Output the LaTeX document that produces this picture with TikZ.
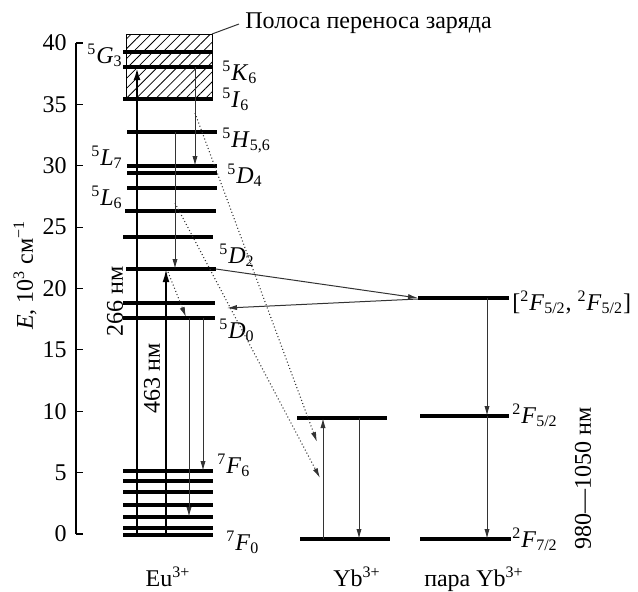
\documentclass[tikz,border=0pt]{standalone}
\usepackage{fontspec}
\setmainfont{Liberation Serif}
\usetikzlibrary{arrows.meta,patterns.meta}
\newcommand\lvl[3]{\textsuperscript{#1}\textit{#2}\textsubscript{#3}}
\begin{document}
\begin{tikzpicture}[x=0.5pt,y=-0.5pt,
  font=\fontsize{12}{14}\selectfont,
  level/.style={line width=1.6pt},
  thinline/.style={line width=0.5pt, draw=black!80},
  arr/.style={-{Latex[length=5pt,width=2.6pt]}},
  bigarr/.style={-{Latex[length=6.5pt,width=3.4pt]}},
  dots/.style={line width=0.55pt, draw=black!80, dash pattern=on 0.5pt off 1.2pt},
  lab/.style={inner sep=0pt}]
\useasboundingbox (0,0) rectangle (638,591);

% axis
\draw[line width=0.6pt] (76,534) -- (76,43);
\foreach \v [evaluate=\v as \yy using 534-61.375*\v, evaluate=\v as \lb using int(5*\v)] in {0,...,8}{
  \draw[line width=0.6pt] (76,\yy) -- (83,\yy);
  \node[lab, anchor=east] (t\v) at (67,\yy) {\lb};
}
\node[lab, rotate=90] (ylab) at (25,275) {\textit{E}, 10\textsuperscript{3} см\textsuperscript{−1}};

% charge transfer band
\draw[line width=0.5pt, pattern={Lines[angle=45,distance=3.5pt,line width=0.4pt]}] (126,34) rectangle (212,99);
\coordinate (bandc) at (212,34);
\node[lab, anchor=base west] (band) at (245,28) {Полоса переноса заряда};
\draw[thinline] (bandc) -- (239,24);

% Eu levels
\foreach \ya/\xa/\xb in {52/123/213, 67/123/213, 99/123/213, 132/127/217, 166/127/217, 173/127/217, 188/127/217, 211/125/216, 237/123/213, 269/126/216, 303/123/215, 318/123/215, 471/123/213, 481/123/213, 492/123/213, 505/123/213, 517/123/213, 528/123/213, 535/123/213}
  \draw[level] (\xa,\ya) -- (\xb,\ya);

% Yb levels
\draw[level] (297,418) -- (387,418);
\draw[level] (300,539) -- (390,539);
% pair levels
\draw[level] (418,298) -- (509,298);
\draw[level] (420,416) -- (509,416);
\draw[level] (420,539) -- (511,539);

% level labels
\node[lab, anchor=base east] (G3) at (123,63) {\lvl{5}{G}{3}};
\node[lab, anchor=base west] (K6) at (222,80) {\lvl{5}{K}{6}};
\node[lab, anchor=base west] (I6) at (222,107) {\lvl{5}{I}{6}};
\node[lab, anchor=base west] (H56) at (222,147) {\lvl{5}{H}{5,6}};
\node[lab, anchor=base east] (L7) at (123,165) {\lvl{5}{L}{7}};
\node[lab, anchor=base west] (D4) at (227,183) {\lvl{5}{D}{4}};
\node[lab, anchor=base east] (L6) at (123,205) {\lvl{5}{L}{6}};
\node[lab, anchor=base west] (D2) at (219,263) {\lvl{5}{D}{2}};
\node[lab, anchor=base west] (D0) at (219,338) {\lvl{5}{D}{0}};
\node[lab, anchor=base west] (F6) at (217,473) {\lvl{7}{F}{6}};
\node[lab, anchor=base west] (F0) at (226,550) {\lvl{7}{F}{0}};
\node[lab, anchor=base west] (P52) at (512,423) {\lvl{2}{F}{5/2}};
\node[lab, anchor=base west] (P72) at (512,547) {\lvl{2}{F}{7/2}};
\node[lab, anchor=base west] (Pair) at (512,310) {[\lvl{2}{F}{5/2}, \lvl{2}{F}{5/2}]};
\node[lab, anchor=base] (Eu) at (168,586) {Eu\textsuperscript{3+}};
\node[lab, anchor=base] (Yb) at (357,586) {Yb\textsuperscript{3+}};
\node[lab, anchor=base] (YbP) at (474,586) {пара Yb\textsuperscript{3+}};
\node[lab, rotate=90] (w266) at (115,301) {266 нм};
\node[lab, rotate=90] (w463) at (152,378) {463 нм};
\node[lab, rotate=90] (w980) at (583,478) {980—1050 нм};

% coordinates
\coordinate (F0a) at (137,535); \coordinate (K6a) at (137,67);
\coordinate (F0b) at (166,535); \coordinate (D2b) at (166,269);
\coordinate (H56c) at (175,132); \coordinate (D2c) at (175,269);
\coordinate (K6d) at (195,67); \coordinate (D4d) at (195,166);
\coordinate (D0e) at (189,318); \coordinate (F2e) at (189,517);
\coordinate (D0f) at (203,318); \coordinate (F6f) at (203,471);
\coordinate (D2g) at (168,272); \coordinate (D0g) at (186,317);
\coordinate (I6h) at (195,113); \coordinate (Ybh) at (317,442);
\coordinate (Lci) at (175,203); \coordinate (Ybi) at (320,478);
\coordinate (D2r) at (216,269); \coordinate (Pl) at (418,298);
\coordinate (Pl2) at (418,299); \coordinate (D0r) at (227,308);
\coordinate (Pv) at (487,298); \coordinate (Pv52) at (487,416); \coordinate (Pv72) at (487,539);
\coordinate (Y72u) at (323,539); \coordinate (Y52u) at (323,418);
\coordinate (Y52d) at (359,418); \coordinate (Y72d) at (359,539);

% transitions
\draw[line width=1.2pt, bigarr] (F0a) -- (K6a);
\draw[line width=0.9pt, bigarr] (F0b) -- (D2b);
\draw[thinline, arr] (H56c) -- (D2c);
\draw[thinline, arr] (K6d) -- (D4d);
\draw[thinline, arr] (D0e) -- (F2e);
\draw[thinline, arr] (D0f) -- (F6f);
\draw[dots, arr] (D2g) -- (D0g);
\draw[dots, arr] (I6h) -- (Ybh);
\draw[dots, arr] (Lci) -- (Ybi);
\draw[thinline, arr] (D2r) -- (Pl);
\draw[thinline, arr] (Pl2) -- (D0r);
\draw[thinline, arr] (Pv) -- (Pv52);
\draw[thinline, arr] (Pv52) -- (Pv72);
\draw[thinline, arr] (Y72u) -- (Y52u);
\draw[thinline, arr] (Y52d) -- (Y72d);
\end{tikzpicture}
\end{document}
